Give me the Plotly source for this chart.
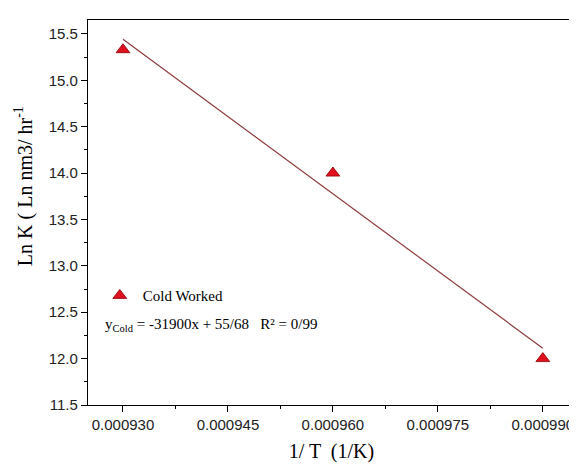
import numpy as np
import plotly.graph_objects as go

inv_T = [0.000930, 0.000960, 0.000990]
ln_K = [15.33, 14.0, 12.0]
series_name = "Cold Worked"
equation_text = "y<sub>Cold</sub> = -31900x + 55/68   R² = 0/99"
x_ticks = [0.000930, 0.000945, 0.000960, 0.000975, 0.000990]
x_ticktext = ["0.000930", "0.000945", "0.000960", "0.000975", "0.000990"]
y_ticks = [11.5, 12.0, 12.5, 13.0, 13.5, 14.0, 14.5, 15.0, 15.5]
y_ticktext = ["11.5", "12.0", "12.5", "13.0", "13.5", "14.0", "14.5", "15.0", "15.5"]

slope, intercept = np.polyfit(inv_T, ln_K, 1)
fit_x = [inv_T[0], inv_T[-1]]
fit_y = [slope * x + intercept for x in fit_x]

fig = go.Figure()
fig.add_trace(go.Scatter(
    x=fit_x, y=fit_y, mode="lines",
    line=dict(color="#8c3b3b", width=1.2),
    showlegend=False, hoverinfo="skip"))
fig.add_trace(go.Scatter(
    x=inv_T, y=ln_K, mode="markers", name=series_name,
    marker=dict(symbol="triangle-up", size=12, color="#e0101e",
                line=dict(color="#8a0000", width=0.8))))

fig.add_annotation(
    xref="paper", yref="paper", x=0.031, y=0.208, xanchor="left", yanchor="middle",
    text=equation_text, showarrow=False,
    font=dict(family="Liberation Serif", size=15, color="black"))

# y-axis title
fig.add_annotation(
    xref="paper", yref="paper", x=-0.131, y=0.569, xanchor="center", yanchor="middle",
    text="Ln K ( Ln nm3/ hr<sup>-1</sup>", showarrow=False, textangle=-90,
    font=dict(family="Liberation Serif", size=20, color="black"))

axis_common = dict(
    showline=True, linecolor="black", linewidth=1.2, mirror=True,
    ticks="outside", ticklen=6, tickwidth=1.2, tickcolor="black",
    showgrid=False, zeroline=False, automargin=False,
    tickfont=dict(family="Liberation Sans", size=15, color="#222"),
)

fig.update_xaxes(
    **axis_common,
    range=[0.000925, 0.0009946],
    tickmode="array", tickvals=x_ticks, ticktext=x_ticktext,
    minor=dict(ticks="outside", ticklen=3, tickwidth=1.2, tickcolor="black",
               tickvals=[0.0009375, 0.0009525, 0.0009675, 0.0009825]),
    title=dict(text="1/ T  (1/K)", font=dict(family="Liberation Serif", size=20, color="black"),
               standoff=11),
)
fig.update_yaxes(
    **axis_common,
    range=[11.5, 15.65],
    tickmode="array", tickvals=y_ticks, ticktext=y_ticktext,
    minor=dict(ticks="outside", ticklen=3, tickwidth=1.2, tickcolor="black",
               tickvals=[11.75, 12.25, 12.75, 13.25, 13.75, 14.25, 14.75, 15.25]),
)

# page body has an 8px margin, so the figure is sized/offset to land on the 577x465 window
fig.update_layout(
    width=569, height=457,
    margin=dict(l=80, r=2, t=12, b=60),
    paper_bgcolor="white", plot_bgcolor="white",
    legend=dict(x=0.018, y=0.284, xanchor="left", yanchor="middle",
                itemwidth=36,
                bgcolor="rgba(0,0,0,0)",
                font=dict(family="Liberation Serif", size=15, color="black")),
)

fig.write_html("out.html")
